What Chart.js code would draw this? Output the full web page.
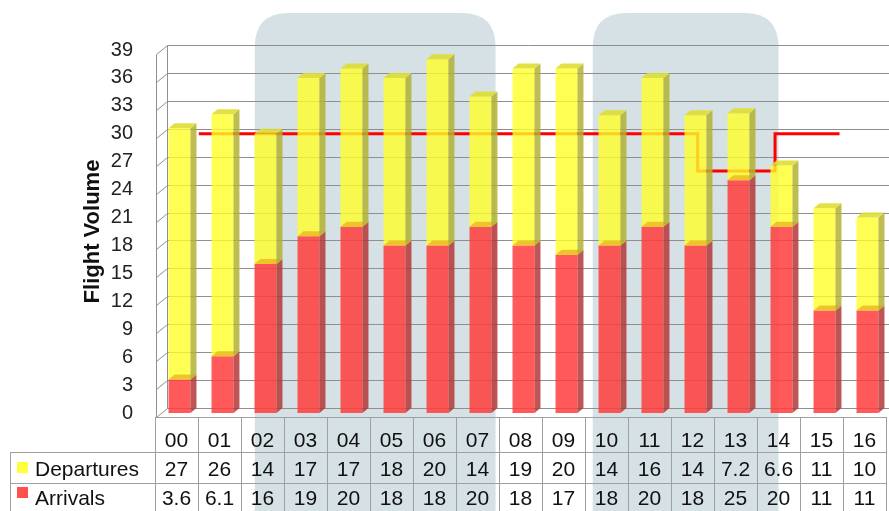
<!DOCTYPE html>
<html><head><meta charset="utf-8">
<script src="https://cdn.jsdelivr.net/npm/chart.js@4/dist/chart.umd.min.js"></script>
<style>html,body{margin:0;padding:0;background:#fff}</style>
</head><body>
<canvas id="c" width="889" height="511"></canvas>
<script>
// ---- data ----
const hours = ['00','01','02','03','04','05','06','07','08','09','10','11','12','13','14','15','16'];
const departures = [27,26,14,17,17,18,20,14,19,20,14,16,14,7.2,6.6,11,10];
const arrivals = [3.6,6.1,16,19,20,18,18,20,18,17,18,20,18,25,20,11,11];
const yMax = 39;
const yStep = 3;
// capacity (target) step line: hour positions and values
const targetHour = [0.45,12.05,12.05,13.85,13.85,15.35];
const targetValue = [30,30,26,26,30,30];
// highlighted periods (in hour units)
const shadeFrom = [1.82, 9.68];
const shadeTo = [7.42, 14.0];

const FONT = '"Liberation Sans", Arial, sans-serif';
const DX = 6, DY = 5;

function roundTopRect(ctx, x0, y0, x1, y1, r){
  ctx.beginPath();
  ctx.moveTo(x0, y1);
  ctx.lineTo(x0, y0 + r);
  ctx.quadraticCurveTo(x0, y0, x0 + r, y0);
  ctx.lineTo(x1 - r, y0);
  ctx.quadraticCurveTo(x1, y0, x1, y0 + r);
  ctx.lineTo(x1, y1);
  ctx.closePath();
}

const deco = {
  id: 'deco',
  beforeDatasetsDraw(chart){
    const ctx = chart.ctx, ys = chart.scales.y, x2 = chart.scales.x2, ca = chart.chartArea;
    ctx.save();
    ctx.fillStyle = 'rgb(213,225,229)';
    for (let i = 0; i < shadeFrom.length; i++){
      const a = x2.getPixelForValue(shadeFrom[i]) - 3, b = x2.getPixelForValue(shadeTo[i]) - 3;
      roundTopRect(ctx, a, 13, b, 520, 34);
      ctx.fill();
    }
    ctx.strokeStyle = '#8f8f8f';
    ctx.lineWidth = 1;
    const fx = ca.left - 1.5, bx = ca.left + 9.5;
    ctx.beginPath();
    for (let v = 0; v <= yMax; v += yStep){
      const py = Math.round(ys.getPixelForValue(v)) + 0.5;
      ctx.moveTo(fx, py + 4); ctx.lineTo(bx, py - 5);
      ctx.lineTo(chart.width, py - 5);
    }
    const p0 = Math.round(ys.getPixelForValue(0)) + 0.5, pT = Math.round(ys.getPixelForValue(yMax)) + 0.5;
    ctx.moveTo(fx, pT + 4); ctx.lineTo(fx, p0 + 4);
    ctx.moveTo(bx, pT - 5); ctx.lineTo(bx, p0 - 5);
    ctx.stroke();
    ctx.restore();
  },
  afterDatasetsDraw(chart){
    const ctx = chart.ctx;
    ctx.save();
    const sideCol = ['rgba(180,55,55,0.85)', 'rgba(178,178,50,0.85)'];
    const capCol = ['rgba(236,190,40,0.9)', 'rgba(222,222,50,0.9)'];
    [0, 1].forEach(di => {
      const meta = chart.getDatasetMeta(di);
      meta.data.forEach(el => {
        const p = el.getProps(['x','y','base','width'], true);
        const l = p.x - p.width/2, r = p.x + p.width/2, t = p.y, b = p.base;
        ctx.fillStyle = sideCol[di];
        ctx.beginPath();
        ctx.moveTo(r, t); ctx.lineTo(r + DX, t - DY); ctx.lineTo(r + DX, b - DY); ctx.lineTo(r, b); ctx.closePath();
        ctx.fill();
        ctx.fillStyle = capCol[di];
        ctx.beginPath();
        ctx.moveTo(l, t); ctx.lineTo(l + DX, t - DY); ctx.lineTo(r + DX, t - DY); ctx.lineTo(r, t); ctx.closePath();
        ctx.fill();
      });
    });
    ctx.restore();
  },
  afterDraw(chart){
    const ctx = chart.ctx, xs = chart.scales.x, ca = chart.chartArea;
    const W = ca.width / hours.length;
    const tableLeft = xs.getPixelForValue(0) - 3 - W/2;
    const tableRight = xs.getPixelForValue(hours.length - 1) - 3 + W/2;
    const top = ca.bottom + 4, r1 = ca.bottom + 39, r2 = ca.bottom + 70, bottom = chart.height + 2;
    ctx.save();
    ctx.strokeStyle = '#a0a0a0';
    ctx.lineWidth = 1;
    ctx.beginPath();
    ctx.moveTo(tableLeft, top + 0.5); ctx.lineTo(tableRight, top + 0.5);
    ctx.moveTo(10, r1 + 0.5); ctx.lineTo(tableRight, r1 + 0.5);
    ctx.moveTo(10, r2 + 0.5); ctx.lineTo(tableRight, r2 + 0.5);
    ctx.moveTo(10.5, r1); ctx.lineTo(10.5, bottom);
    for (let i = 0; i <= hours.length; i++){
      const xx = Math.round(tableLeft + i * W) + 0.5;
      ctx.moveTo(xx, top); ctx.lineTo(xx, bottom);
    }
    ctx.stroke();
    ctx.fillStyle = '#111';
    ctx.font = '21px ' + FONT;
    ctx.textAlign = 'center';
    ctx.textBaseline = 'alphabetic';
    hours.forEach((h, i) => {
      const cx = xs.getPixelForValue(i) - 3;
      ctx.fillText(h, cx, top + 30);
      ctx.fillText(String(departures[i]), cx, r1 + 24);
      ctx.fillText(String(arrivals[i]), cx, r2 + 22);
    });
    ctx.textAlign = 'left';
    ctx.fillText('Departures', 35, r1 + 24);
    ctx.fillText('Arrivals', 35, r2 + 22);
    ctx.fillStyle = 'rgb(255,255,60)';
    ctx.fillRect(17, r1 + 10, 11, 11);
    ctx.fillStyle = 'rgb(255,80,80)';
    ctx.fillRect(17, r2 + 4, 11, 11);
    ctx.restore();
  }
};

new Chart(document.getElementById('c'), {
  type: 'bar',
  data: {
    labels: hours,
    datasets: [
      {
        label: 'Arrivals',
        data: arrivals,
        backgroundColor: 'rgba(255,60,60,0.85)',
        stack: 's', order: 1, grouped: false,
        categoryPercentage: 1, barPercentage: 0.51,
        xAxisID: 'x', yAxisID: 'y'
      },
      {
        label: 'Departures',
        data: departures,
        backgroundColor: 'rgba(255,255,40,0.8)',
        stack: 's', order: 1, grouped: false,
        categoryPercentage: 1, barPercentage: 0.51,
        xAxisID: 'x', yAxisID: 'y'
      },
      {
        type: 'line',
        label: 'Capacity',
        data: targetHour.map((h, i) => ({x: h, y: targetValue[i]})),
        borderColor: '#ff0000',
        borderWidth: 3,
        pointRadius: 0,
        fill: false,
        tension: 0,
        order: 2,
        xAxisID: 'x2', yAxisID: 'y'
      }
    ]
  },
  options: {
    responsive: false,
    animation: false,
    devicePixelRatio: 1,
    layout: { padding: { top: 50, bottom: 98, left: 0, right: -5 } },
    plugins: { legend: { display: false }, tooltip: { enabled: false } },
    scales: {
      x: { display: false, stacked: true },
      x2: { type: 'linear', display: false, offset: false, min: -0.5, max: 16.5 },
      y: {
        stacked: true, min: 0, max: yMax,
        ticks: { stepSize: yStep, font: { size: 20, family: FONT }, color: '#222', padding: 25 },
        grid: { display: false, drawTicks: false },
        border: { display: false },
        title: { display: true, text: 'Flight Volume', font: { size: 22, weight: 'bold', family: FONT }, color: '#111', padding: { top: 80, bottom: 0 } },
        afterFit: s => { s.width = 158; }
      }
    }
  },
  plugins: [deco]
});
</script>
</body></html>
